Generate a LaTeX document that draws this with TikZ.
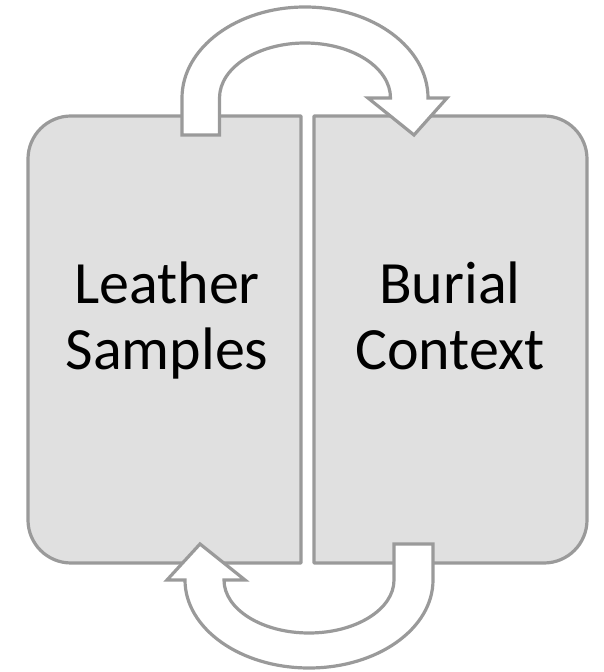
\documentclass[tikz,border=0pt]{standalone}
\usepackage{fontspec}
\setmainfont{Carlito}
\definecolor{boxfill}{HTML}{E0E0E0}
\definecolor{edge}{HTML}{9A9A9A}
\begin{document}
\begin{tikzpicture}[x=1pt,y=1pt,
  panel/.style={draw=edge,fill=boxfill,line width=3.2pt,line join=round},
  cyclearrow/.style={draw=edge,fill=white,line width=3.2pt,line join=miter},
  lbl/.style={font=\fontsize{60}{66}\selectfont,align=center,anchor=base,text=black,inner sep=0pt}]
\useasboundingbox (0,0) rectangle (603,672);
% left panel
\draw[panel] (301,556) -- (71,556) arc[start angle=90,end angle=180,radius=43]
  -- (28,152) arc[start angle=180,end angle=270,radius=43] -- (301,109) -- cycle;
% right panel
\draw[panel] (314,556) -- (544,556) arc[start angle=90,end angle=0,radius=43]
  -- (587,152) arc[start angle=0,end angle=-90,radius=43] -- (314,109) -- cycle;
% top arrow (left -> right)
\draw[cyclearrow] (182,537) -- (182,574)
  arc[start angle=180,end angle=0,x radius=123,y radius=91]
  -- (447,574) -- (414,537) -- (368,574) -- (390.5,574)
  arc[start angle=0,end angle=180,x radius=85.5,y radius=55]
  -- (219.5,537) -- cycle;
% bottom arrow (right -> left)
\draw[cyclearrow] (394,128) -- (394,92)
  arc[start angle=0,end angle=-180,x radius=85,y radius=53]
  -- (245,92) -- (200,128) -- (167,92) -- (185,92)
  arc[start angle=180,end angle=360,x radius=124,y radius=88]
  -- (433,128) -- cycle;
\node[lbl] (leather) at (167,302) {Leather\\Samples};
\node[lbl] (burial) at (450,302) {Burial\\Context};
\end{tikzpicture}
\end{document}
